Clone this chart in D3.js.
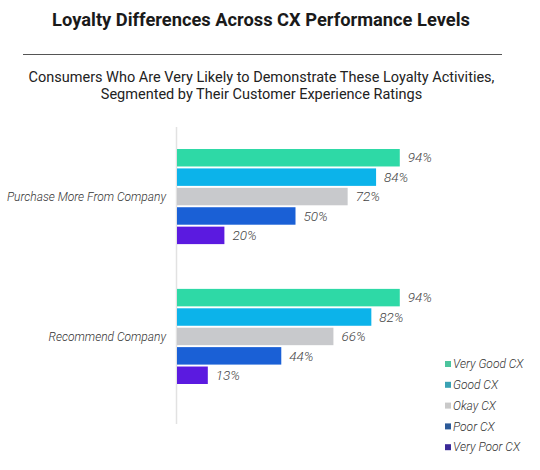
<!DOCTYPE html>
<html>
<head>
<meta charset="utf-8">
<script src="https://cdn.jsdelivr.net/npm/d3@7"></script>
<style>
  body { margin: 0; background: #fff; }
  svg { display: block; }
</style>
</head>
<body>
<div id="chart"></div>
<script>
// Dati del grafico
const categories = ["Purchase More From Company", "Recommend Company"];
const series = ["Very Good CX", "Good CX", "Okay CX", "Poor CX", "Very Poor CX"];
const purchaseValues = [94, 84, 72, 50, 20];
const recommendValues = [94, 82, 66, 44, 13];
const valueLabels = [["94%", "84%", "72%", "50%", "20%"], ["94%", "82%", "66%", "44%", "13%"]];

const barColors = ["#2ed9a6", "#0cb3ea", "#c8c9cc", "#1a60d6", "#5b1ae0"];
const legendColors = ["#4cc49d", "#3aa2b4", "#c9c9c9", "#2c5a98", "#3b2a98"];

const width = 540, height = 470;

const svg = d3.select("#chart")
    .append("svg")
    .attr("width", width)
    .attr("height", height)

// Titolo
svg.append("text")
    .attr("x", 261).attr("y", 26)
    .attr("text-anchor", "middle")
    .style("font-family", "Roboto, 'Open Sans', sans-serif")
    .style("font-weight", "bold")
    .style("font-size", "18.3px")
    .style("fill", "#1a1a1a")
    .text("Loyalty Differences Across CX Performance Levels")

// Linea sotto il titolo
svg.append("line")
    .attr("x1", 23).attr("x2", 502)
    .attr("y1", 54.5).attr("y2", 54.5)
    .style("stroke", "#555")
    .style("stroke-width", 1)

// Sottotitolo
const subtitle = ["Consumers Who Are Very Likely to Demonstrate These Loyalty Activities,",
    "Segmented by Their Customer Experience Ratings"];
svg.selectAll(".subtitle")
    .data(subtitle)
    .join("text")
    .attr("class", "subtitle")
    .attr("x", 261.5)
    .attr("y", (d, i) => 82 + i * 16.5)
    .attr("text-anchor", "middle")
    .style("font-family", "Roboto, sans-serif")
    .style("font-size", "14.5px")
    .style("fill", "#222")
    .text(d => d)

// Scale
const x = d3.scaleLinear()
    .domain([0, 100])
    .range([177, 414]);

const y0 = d3.scaleBand()
    .domain(categories)
    .range([149, 384])
    .paddingInner(0.32)
    .paddingOuter(0);

const y1 = d3.scaleBand()
    .domain(series)
    .range([0, y0.bandwidth()])
    .paddingInner(0.1);

const groups = [purchaseValues, recommendValues];

// Asse verticale
svg.append("line")
    .attr("x1", x(0) - 0.5).attr("x2", x(0) - 0.5)
    .attr("y1", 127).attr("y2", 424)
    .style("stroke", "#e2e2e2")
    .style("stroke-width", 1.5)

// Barre
categories.forEach(function (cat, gi) {
    const g = svg.append("g")
        .attr("transform", `translate(0,${y0(cat)})`)

    g.selectAll("rect")
        .data(groups[gi])
        .join("rect")
        .attr("x", x(0))
        .attr("y", (d, i) => y1(series[i]))
        .attr("width", d => x(d) - x(0))
        .attr("height", y1.bandwidth())
        .style("fill", (d, i) => barColors[i])

    g.selectAll("text")
        .data(groups[gi])
        .join("text")
        .attr("x", d => x(d) + 8)
        .attr("y", (d, i) => y1(series[i]) + y1.bandwidth() / 2)
        .attr("dy", "0.35em")
        .style("font-family", "Roboto, sans-serif")
        .style("font-style", "italic")
        .style("font-weight", 300)
        .style("font-size", "13.5px")
        .style("fill", "#444")
        .text((d, i) => valueLabels[gi][i])

    // Etichetta categoria
    svg.append("text")
        .attr("x", 166)
        .attr("y", y0(cat) + y0.bandwidth() / 2)
        .attr("dy", "0.35em")
        .attr("text-anchor", "end")
        .style("font-family", "Roboto, sans-serif")
        .style("font-style", "italic")
        .style("font-weight", 300)
        .style("font-size", "12px")
        .style("fill", "#333")
        .text(cat)
})

// Legenda
const legend = svg.selectAll(".legend")
    .data(series)
    .join("g")
    .attr("class", "legend")
    .attr("transform", (d, i) => `translate(445,${364 + i * 20.8})`)

legend.append("rect")
    .attr("x", 0).attr("y", -3)
    .attr("width", 6).attr("height", 6)
    .style("fill", (d, i) => legendColors[i])

legend.append("text")
    .attr("x", 8)
    .attr("y", 0)
    .attr("dy", "0.35em")
    .style("font-family", "Roboto, sans-serif")
    .style("font-style", "italic")
    .style("font-weight", 300)
    .style("font-size", "12px")
    .style("fill", "#333")
    .text(d => d)
</script>
</body>
</html>
